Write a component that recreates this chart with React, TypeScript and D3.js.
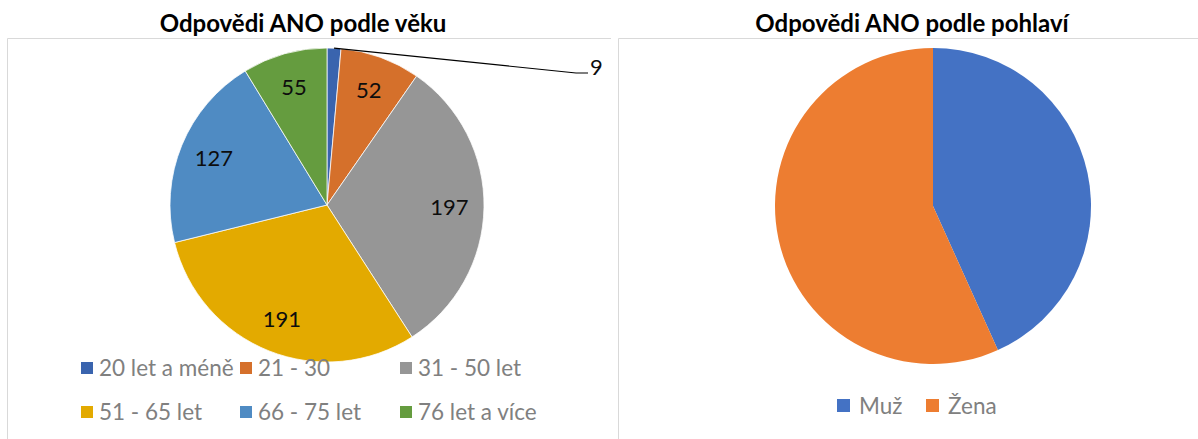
import React from "react";
import * as d3 from "d3";

const ageCategories = ["20 let a méně", "21 - 30", "31 - 50 let", "51 - 65 let", "66 - 75 let", "76 let a více"];
const ageValues = [9, 52, 197, 191, 127, 55];
const ageColors = ["#3A64AE", "#D5702B", "#969696", "#E3AA00", "#4F8BC3", "#659C3F"];

const genderCategories = ["Muž", "Žena"];
const genderValues = [273, 358];
const genderColors = ["#4472C4", "#ED7D31"];

const FONT = "Lato, 'Open Sans', sans-serif";

export default function App() {
  const pie = d3.pie<number>().sort(null).value((d) => d);

  // Left chart
  const lcx = 327, lcy = 205, lR = 157;
  const ageArcs = pie(ageValues);
  const arcL = d3.arc<d3.PieArcDatum<number>>().innerRadius(0).outerRadius(lR);
  const labelArc = d3.arc<d3.PieArcDatum<number>>().innerRadius(lR * 0.78).outerRadius(lR * 0.78);

  // Right chart
  const rcx = 933, rcy = 206, rR = 158;
  const genderArcs = pie(genderValues);
  const arcR = d3.arc<d3.PieArcDatum<number>>().innerRadius(0).outerRadius(rR);

  const small = ageArcs[0];
  const midA = (small.startAngle + small.endAngle) / 2;
  const lx0 = lcx + Math.sin(midA) * lR;
  const ly0 = lcy - Math.cos(midA) * lR;

  const legendCols = [81, 240, 400];
  const legendRows = [368, 412];

  return (
    <svg width={1198} height={439} style={{ position: "absolute", left: 0, top: 0, background: "#fff" }}>
      <rect x={0} y={0} width={1198} height={439} fill="#fff" />
      {/* frames */}
      <path d="M7.5,439 V38.5 H611" fill="none" stroke="#d9d9d9" strokeWidth={1} />
      <path d="M618.5,439 V38.5 H1198" fill="none" stroke="#d9d9d9" strokeWidth={1} />

      {/* titles */}
      <text x={303} y={32} textAnchor="middle" fontFamily={FONT} fontWeight="bold" fontSize={24} fill="#000">
        Odpovědi ANO podle věku
      </text>
      <text x={912} y={32} textAnchor="middle" fontFamily={FONT} fontWeight="bold" fontSize={24} fill="#000">
        Odpovědi ANO podle pohlaví
      </text>

      {/* left pie */}
      <g transform={`translate(${lcx},${lcy})`}>
        {ageArcs.map((a, i) => (
          <path key={i} d={arcL(a) || ""} fill={ageColors[i]} stroke="#fff" strokeWidth={0.75} />
        ))}
        {ageArcs.map((a, i) => {
          if (i === 0) return null;
          const [x, y] = labelArc.centroid(a);
          return (
            <text key={i} x={x} y={y} dy="0.36em" textAnchor="middle" fontFamily={FONT} fontSize={22} fill="#0d0d0d">
              {ageValues[i]}
            </text>
          );
        })}
      </g>
      <polyline points={`${lx0},${ly0} 576,73 588,73`} fill="none" stroke="#000" strokeWidth={1.2} />
      <text x={590} y={74} dy="0.05em" fontFamily={FONT} fontSize={22} fill="#0d0d0d">
        {ageValues[0]}
      </text>

      {/* left legend */}
      {ageCategories.map((c, i) => {
        const x = legendCols[i % 3];
        const y = legendRows[Math.floor(i / 3)];
        return (
          <g key={c}>
            <rect x={x} y={y - 6} width={12} height={12} fill={ageColors[i]} />
            <text x={x + 18} y={y} dy="0.35em" fontFamily={FONT} fontSize={22.5} fill="#808080">
              {c}
            </text>
          </g>
        );
      })}

      {/* right pie */}
      <g transform={`translate(${rcx},${rcy})`}>
        {genderArcs.map((a, i) => (
          <path key={i} d={arcR(a) || ""} fill={genderColors[i]} />
        ))}
      </g>

      {/* right legend */}
      {genderCategories.map((c, i) => {
        const x = [837, 926][i];
        const y = 406;
        return (
          <g key={c}>
            <rect x={x} y={y - 7} width={13} height={13} fill={genderColors[i]} />
            <text x={x + 22} y={y} dy="0.35em" fontFamily={FONT} fontSize={22.5} fill="#808080">
              {c}
            </text>
          </g>
        );
      })}
    </svg>
  );
}
